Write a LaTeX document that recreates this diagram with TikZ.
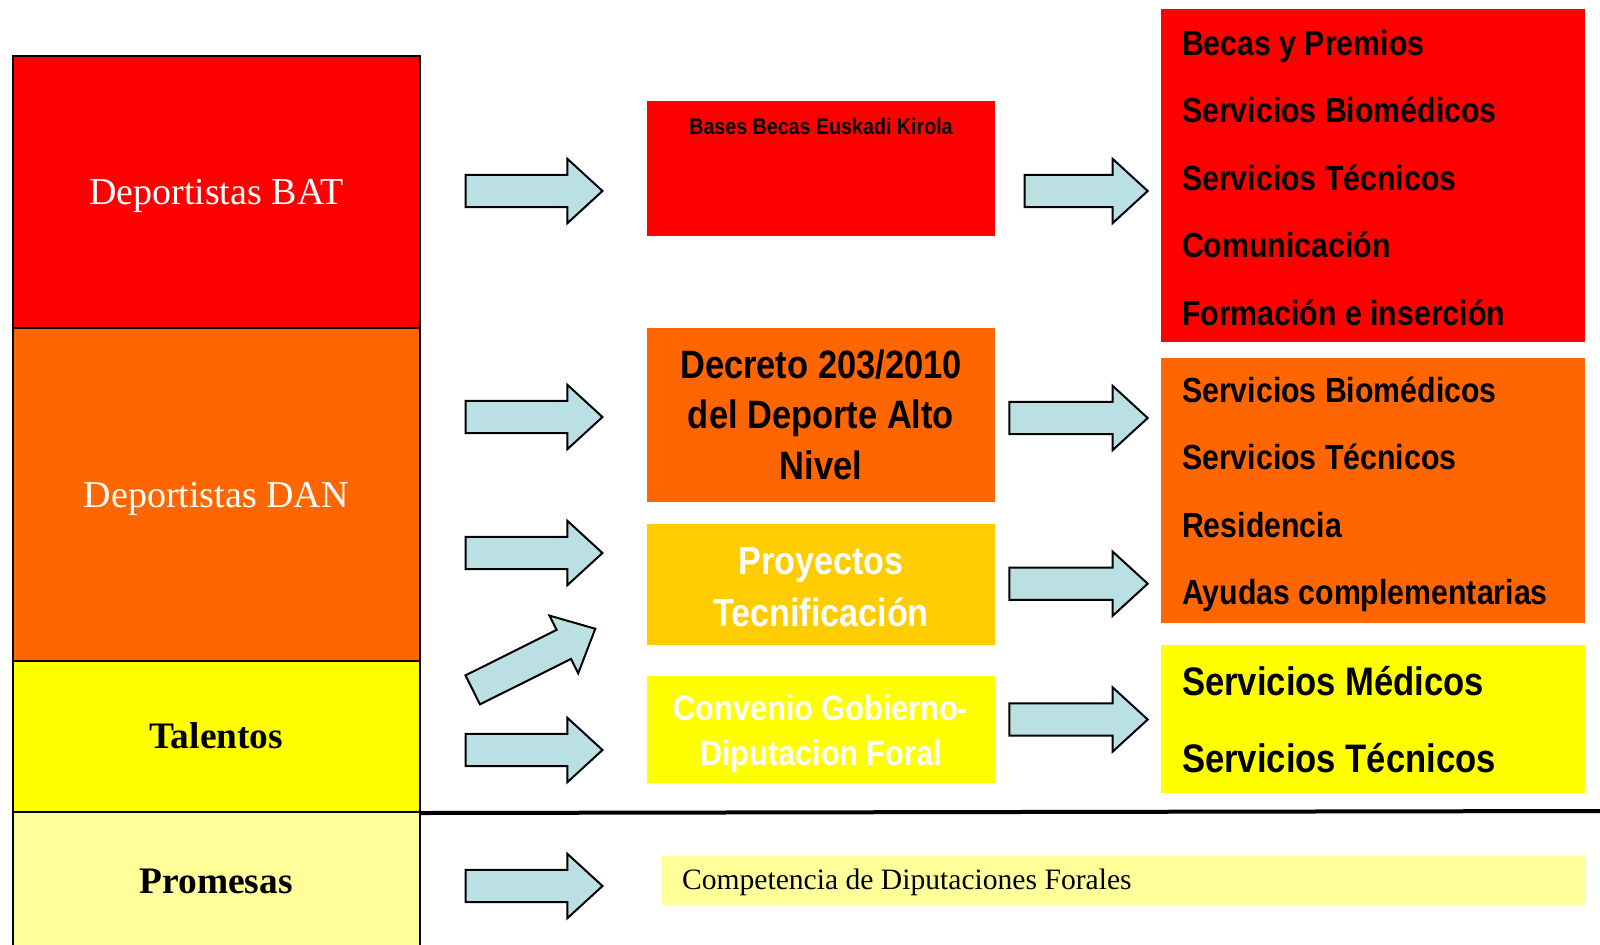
\documentclass[tikz,border=0pt]{standalone}
\usepackage{fontspec}
\setmainfont{Liberation Serif}
\newfontfamily\narrowsans{Liberation Sans}[FakeStretch=0.87]
\usetikzlibrary{shapes.arrows}
\definecolor{cred}{HTML}{FF0000}
\definecolor{corange}{HTML}{FF6600}
\definecolor{cgold}{HTML}{FFCC00}
\definecolor{cyellow}{HTML}{FFFF00}
\definecolor{cpale}{HTML}{FFFF99}
\definecolor{arrowc}{HTML}{BBE0E3}
\tikzset{
  blk/.style={anchor=north west, inner sep=0pt, draw=none},
  colbox/.style={anchor=north west, inner sep=0pt, draw=black, line width=1pt,
    minimum width=203.75pt, text height=12.6pt, text depth=0pt,
    font=\fontsize{19}{22}\selectfont},
  colboxb/.style={colbox, text height=12.4pt, font=\bfseries\fontsize{18.7}{22}\selectfont},
  barr/.style={single arrow, draw=black, line width=1pt, fill=arrowc,
    inner xsep=0pt, inner ysep=7.6pt, single arrow head extend=8pt,
    single arrow tip angle=85, minimum width=31.25pt, anchor=tail},
  itemr/.style={anchor=base west, inner sep=0pt, font=\narrowsans\bfseries\fontsize{17.4}{20}\selectfont},
  itemy/.style={anchor=base west, inner sep=0pt, font=\narrowsans\bfseries\fontsize{19.9}{22}\selectfont},
  ctrtext/.style={align=center, inner sep=0pt}
}
\begin{document}
\begin{tikzpicture}[x=0.5pt,y=-0.5pt]
\useasboundingbox (0,0) rectangle (1600,944);
\fill[white] (0,0) rectangle (1600,944);

% left column
\node[colbox, fill=cred, text=white, minimum height=136pt] (bat) at (11.5,55) {Deportistas BAT};
\node[colbox, fill=corange, text=white, minimum height=166.5pt] (dan) at (11.5,327) {Deportistas DAN};
\node[colboxb, fill=cyellow, text=black, minimum height=75.5pt] (tal) at (11.5,660) {Talentos};
\node[colboxb, fill=cpale, text=black, minimum height=69.5pt] (prom) at (11.5,811) {Promesas};

% separator line
\coordinate (lineend) at (1600,811);
\draw[line width=2pt] (tal.south east) -- (lineend);

% left arrows
\node[barr, minimum height=68.5pt] (a1) at (464.5,191) {};
\node[barr, minimum height=68.5pt] (a2) at (464.5,417) {};
\node[barr, minimum height=68.5pt] (a3) at (464.5,553) {};
\node[barr, minimum height=68.5pt, rotate=26.5] (a4) at (471.8,690.3) {};
\node[barr, minimum height=68.5pt] (a5) at (464.5,750) {};
\node[barr, minimum height=68.5pt] (a6) at (464.5,886) {};

% centre boxes
\node[blk, fill=cred, minimum width=174pt, minimum height=67.5pt] (bases) at (647,101) {};
\node[anchor=base, inner sep=0pt, font=\narrowsans\bfseries\fontsize{11.3}{13}\selectfont] (basest) at (821,134.5) {Bases Becas Euskadi Kirola};

\node[blk, fill=corange, minimum width=174pt, minimum height=87pt] (decreto) at (647,327.3) {};
\node[ctrtext, font=\narrowsans\bfseries\fontsize{19.8}{25.25}\selectfont] (decretot) at (821,414.6) {Decreto 203/2010\\del Deporte Alto\\Nivel};

\node[blk, fill=cgold, minimum width=174pt, minimum height=60.5pt] (proy) at (647,524) {};
\node[ctrtext, text=white, font=\narrowsans\bfseries\fontsize{19.6}{25.85}\selectfont] (proyt) at (821,586.9) {Proyectos\\Tecnificación};

\node[blk, fill=cyellow, minimum width=174pt, minimum height=53.75pt] (conv) at (647,675.5) {};
\node[ctrtext, text=white, font=\narrowsans\bfseries\fontsize{17.6}{22.5}\selectfont] (convt) at (821,733.6) {Convenio Gobierno-\\Diputacion Foral};

\node[blk, fill=cpale, minimum width=461.5pt, minimum height=24.5pt] (comp) at (662,856) {};
\node[anchor=base west, inner sep=0pt, font=\fontsize{14.8}{17}\selectfont] (compt) at (681.6,889) {Competencia de Diputaciones Forales};

% right arrows
\node[barr, minimum height=61.6pt] (r1) at (1023.5,191) {};
\node[barr, minimum height=69.2pt] (r2) at (1008.3,418) {};
\node[barr, minimum height=69.2pt] (r3) at (1008.3,583.7) {};
\node[barr, minimum height=69.2pt] (r4) at (1008.3,719.5) {};

% right panels
\node[blk, fill=cred, minimum width=212pt, minimum height=166.5pt] (pred) at (1161,9) {};
\node[itemr] (i1) at (1181.7,55) {Becas y Premios};
\node[itemr] (i2) at (1181.7,122.5) {Servicios Biomédicos};
\node[itemr] (i3) at (1181.7,190) {Servicios Técnicos};
\node[itemr] (i4) at (1181.7,257.5) {Comunicación};
\node[itemr] (i5) at (1181.7,325) {Formación e inserción};

\node[blk, fill=corange, minimum width=212pt, minimum height=132.25pt] (porange) at (1161,358) {};
\node[itemr] (j1) at (1181.7,402.5) {Servicios Biomédicos};
\node[itemr] (j2) at (1181.7,469.5) {Servicios Técnicos};
\node[itemr] (j3) at (1181.7,537) {Residencia};
\node[itemr] (j4) at (1181.7,604.5) {Ayudas complementarias};

\node[blk, fill=cyellow, minimum width=212pt, minimum height=73.85pt] (pyellow) at (1161,645) {};
\node[itemy] (k1) at (1181.7,695.7) {Servicios Médicos};
\node[itemy] (k2) at (1181.7,772.3) {Servicios Técnicos};
\end{tikzpicture}
\end{document}
